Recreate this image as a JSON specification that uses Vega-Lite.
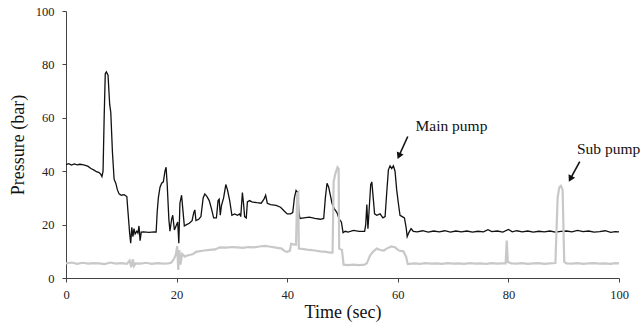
{
  "$schema": "https://vega.github.io/schema/vega-lite/v6.json",
  "width": 553,
  "height": 267,
  "autosize": {"type": "none"},
  "padding": {"left": 66, "top": 11, "right": 22, "bottom": 52},
  "background": "white",
  "config": {
    "view": {"stroke": null},
    "font": "Liberation Serif",
    "axis": {
      "grid": false,
      "labelFont": "Liberation Serif",
      "titleFont": "Liberation Serif",
      "labelFontSize": 12.5,
      "titleFontSize": 18,
      "titleFontWeight": "normal",
      "labelColor": "#222",
      "titleColor": "#111",
      "domainColor": "#444",
      "tickColor": "#444",
      "tickSize": 4,
      "domainWidth": 1,
      "tickWidth": 1
    }
  },
  "datasets": {
    "main": [
      {"t":0,"p":42.5},{"t":0.5,"p":42.8},{"t":1,"p":42.3},{"t":1.5,"p":42.7},{"t":2,"p":42.4},{"t":2.5,"p":42.6},{"t":3,"p":42.5},{"t":3.5,"p":42.2},{"t":4,"p":41.8},{"t":4.5,"p":41.0},{"t":5,"p":40.5},{"t":5.5,"p":39.8},{"t":6,"p":39.5},{"t":6.3,"p":38.8},{"t":6.5,"p":38},{"t":6.7,"p":40},{"t":6.9,"p":60},{"t":7.1,"p":76.5},{"t":7.3,"p":77.2},{"t":7.6,"p":76},{"t":7.9,"p":65},{"t":8.1,"p":62},{"t":8.4,"p":47},{"t":8.7,"p":37},{"t":9.0,"p":35.5},{"t":9.3,"p":33},{"t":9.6,"p":31.5},{"t":10,"p":31},{"t":10.5,"p":31.2},{"t":11,"p":30.5},{"t":11.2,"p":25},{"t":11.5,"p":17},{"t":11.7,"p":13},{"t":11.9,"p":19},{"t":12.1,"p":15.5},{"t":12.3,"p":18.5},{"t":12.5,"p":16.5},{"t":12.8,"p":17.5},{"t":13.0,"p":16.8},{"t":13.2,"p":19.5},{"t":13.4,"p":14},{"t":13.6,"p":17.2},{"t":14,"p":17.3},{"t":15,"p":17.1},{"t":16,"p":17.3},{"t":16.3,"p":17.2},{"t":16.5,"p":25},{"t":16.7,"p":30},{"t":17,"p":34},{"t":17.3,"p":35.5},{"t":17.6,"p":36},{"t":17.9,"p":40},{"t":18.1,"p":41.5},{"t":18.3,"p":35},{"t":18.6,"p":22},{"t":18.8,"p":17.5},{"t":19.1,"p":22},{"t":19.3,"p":23.5},{"t":19.6,"p":18},{"t":19.9,"p":19.5},{"t":20.2,"p":21},{"t":20.4,"p":13},{"t":20.6,"p":28},{"t":20.9,"p":31},{"t":21.2,"p":24},{"t":21.4,"p":19.5},{"t":21.8,"p":20},{"t":22.3,"p":20.5},{"t":22.8,"p":21.5},{"t":23.1,"p":24.5},{"t":23.3,"p":25.5},{"t":23.5,"p":21.5},{"t":24,"p":22},{"t":24.4,"p":23},{"t":24.8,"p":30},{"t":25.1,"p":31.5},{"t":25.5,"p":30.5},{"t":25.9,"p":29},{"t":26.3,"p":26},{"t":26.7,"p":22.5},{"t":27.2,"p":22.5},{"t":27.5,"p":29},{"t":27.7,"p":29.5},{"t":27.9,"p":23.5},{"t":28.1,"p":27},{"t":28.5,"p":30},{"t":28.9,"p":35},{"t":29.2,"p":33},{"t":29.6,"p":29},{"t":30,"p":23.5},{"t":30.5,"p":24},{"t":31,"p":23.5},{"t":31.4,"p":24},{"t":31.6,"p":23},{"t":31.9,"p":32},{"t":32.1,"p":28},{"t":32.3,"p":23},{"t":32.6,"p":22.5},{"t":32.8,"p":28.5},{"t":33.2,"p":29},{"t":33.6,"p":28.5},{"t":34.5,"p":28.2},{"t":35.3,"p":28},{"t":35.8,"p":29.5},{"t":36.1,"p":31},{"t":36.4,"p":28},{"t":37,"p":27.5},{"t":38,"p":27.2},{"t":38.8,"p":26.5},{"t":39.5,"p":25},{"t":40,"p":24},{"t":40.6,"p":24},{"t":41,"p":24.5},{"t":41.3,"p":30},{"t":41.6,"p":32.8},{"t":41.9,"p":32},{"t":42.1,"p":25},{"t":42.3,"p":22.3},{"t":43,"p":22.5},{"t":44,"p":22.8},{"t":45,"p":22.3},{"t":46,"p":22},{"t":46.6,"p":22.3},{"t":46.9,"p":30},{"t":47.2,"p":35.5},{"t":47.5,"p":34},{"t":47.8,"p":31},{"t":48.1,"p":28},{"t":48.5,"p":26},{"t":49,"p":24.5},{"t":49.4,"p":22},{"t":49.8,"p":21},{"t":50.1,"p":17},{"t":50.5,"p":17.5},{"t":51,"p":17.2},{"t":52,"p":17.8},{"t":53,"p":17.5},{"t":54,"p":17.5},{"t":54.2,"p":20},{"t":54.4,"p":27.5},{"t":54.6,"p":18.5},{"t":54.8,"p":25},{"t":55.1,"p":35},{"t":55.3,"p":36},{"t":55.6,"p":29},{"t":55.8,"p":24},{"t":56.2,"p":23.5},{"t":56.8,"p":24},{"t":57.3,"p":22.5},{"t":57.7,"p":23},{"t":58,"p":32},{"t":58.3,"p":40.5},{"t":58.6,"p":42},{"t":58.9,"p":41},{"t":59.2,"p":42},{"t":59.5,"p":40},{"t":59.8,"p":33},{"t":60.1,"p":28},{"t":60.4,"p":23.5},{"t":60.8,"p":23},{"t":61.2,"p":22.5},{"t":61.5,"p":19},{"t":61.7,"p":15.5},{"t":62,"p":17},{"t":62.4,"p":18.5},{"t":62.8,"p":17.5},{"t":63.5,"p":17.3},{"t":64.5,"p":17.7},{"t":65.5,"p":17.2},{"t":66.5,"p":17.6},{"t":67.5,"p":17.3},{"t":68.5,"p":17.7},{"t":69.5,"p":17.2},{"t":70.5,"p":17.6},{"t":71.5,"p":17.3},{"t":72.5,"p":17.6},{"t":73.5,"p":17.2},{"t":74.5,"p":17.5},{"t":75.5,"p":17.3},{"t":76.3,"p":18.1},{"t":77,"p":17.4},{"t":78,"p":17.6},{"t":79,"p":17.2},{"t":80,"p":18.2},{"t":80.7,"p":17.3},{"t":81.5,"p":17.7},{"t":82.5,"p":17.3},{"t":83.5,"p":17.6},{"t":84.5,"p":17.2},{"t":85.5,"p":17.5},{"t":86.5,"p":17.3},{"t":87.5,"p":17.6},{"t":88.5,"p":17.2},{"t":89.5,"p":17.5},{"t":90.5,"p":17.6},{"t":91.5,"p":17.3},{"t":92.5,"p":17.8},{"t":93.5,"p":17.4},{"t":94.5,"p":17.6},{"t":95.5,"p":17.2},{"t":96.5,"p":17.4},{"t":97.5,"p":17.7},{"t":98.5,"p":17.1},{"t":99.3,"p":17.4},{"t":100,"p":17.3}
    ],
    "sub": [
      {"t":0,"p":5.5},{"t":1,"p":5.8},{"t":2,"p":5.3},{"t":3,"p":5.7},{"t":4,"p":5.4},{"t":5,"p":5.6},{"t":6,"p":5.5},{"t":7,"p":5.2},{"t":8,"p":5.8},{"t":9,"p":5.4},{"t":10,"p":5.6},{"t":11,"p":5.3},{"t":11.5,"p":6.5},{"t":11.8,"p":4},{"t":12.1,"p":7},{"t":12.3,"p":4.5},{"t":12.6,"p":5.5},{"t":13.5,"p":5.4},{"t":14.5,"p":5.7},{"t":15.5,"p":5.3},{"t":16.5,"p":5.6},{"t":17.5,"p":5.4},{"t":18.5,"p":5.5},{"t":19,"p":5.7},{"t":19.5,"p":7},{"t":19.9,"p":9},{"t":20.1,"p":12},{"t":20.3,"p":3},{"t":20.5,"p":10.5},{"t":20.7,"p":5},{"t":21,"p":9},{"t":21.5,"p":8},{"t":22,"p":8.5},{"t":22.5,"p":8.7},{"t":23,"p":9},{"t":23.5,"p":9.8},{"t":24,"p":10},{"t":25,"p":10.3},{"t":26,"p":10.5},{"t":27,"p":10.7},{"t":27.8,"p":11.5},{"t":29,"p":11.4},{"t":30,"p":11.6},{"t":31,"p":11.5},{"t":32,"p":11.3},{"t":33,"p":11.6},{"t":34,"p":11.5},{"t":35,"p":11.8},{"t":36,"p":12},{"t":37,"p":11.7},{"t":38,"p":11.4},{"t":39,"p":11},{"t":39.6,"p":10},{"t":40,"p":9.8},{"t":40.5,"p":10.2},{"t":40.7,"p":12.8},{"t":41.3,"p":12.5},{"t":41.6,"p":12.5},{"t":41.8,"p":31.5},{"t":42,"p":32},{"t":42.1,"p":11},{"t":43,"p":10.8},{"t":44,"p":10.5},{"t":45,"p":10.3},{"t":46,"p":10},{"t":47,"p":9.8},{"t":47.8,"p":9.5},{"t":48.2,"p":9.5},{"t":48.4,"p":36},{"t":48.7,"p":39},{"t":49.1,"p":41.5},{"t":49.3,"p":41},{"t":49.4,"p":11},{"t":49.9,"p":10.5},{"t":50.2,"p":5},{"t":51,"p":4.8},{"t":52,"p":5},{"t":53,"p":4.8},{"t":54,"p":5},{"t":54.4,"p":5.5},{"t":55,"p":8.5},{"t":55.6,"p":10},{"t":56.2,"p":11},{"t":56.8,"p":10.5},{"t":57.5,"p":10.3},{"t":58,"p":11},{"t":58.8,"p":11.8},{"t":59.5,"p":11.5},{"t":60.2,"p":10.3},{"t":61,"p":10},{"t":61.5,"p":8},{"t":61.8,"p":5.2},{"t":63,"p":5.5},{"t":64,"p":5.3},{"t":65,"p":5.6},{"t":66,"p":5.4},{"t":67,"p":5.5},{"t":68,"p":5.3},{"t":69,"p":5.6},{"t":70,"p":5.4},{"t":71,"p":5.5},{"t":72,"p":5.3},{"t":73,"p":5.6},{"t":74,"p":5.4},{"t":75,"p":5.5},{"t":76,"p":5.3},{"t":77,"p":5.6},{"t":78,"p":5.4},{"t":79,"p":5.5},{"t":79.5,"p":5.5},{"t":79.7,"p":14},{"t":79.9,"p":6},{"t":80.5,"p":5.5},{"t":81.5,"p":5.4},{"t":82.5,"p":5.6},{"t":83.5,"p":5.3},{"t":84.5,"p":5.5},{"t":85.5,"p":5.6},{"t":86.5,"p":5.3},{"t":87.5,"p":5.5},{"t":88.5,"p":5.6},{"t":88.9,"p":30},{"t":89.2,"p":34},{"t":89.5,"p":34.5},{"t":89.8,"p":33},{"t":90.1,"p":6},{"t":90.5,"p":5.5},{"t":91.5,"p":5.4},{"t":92.5,"p":5.6},{"t":93.5,"p":5.3},{"t":94.5,"p":5.5},{"t":95.5,"p":5.6},{"t":96.5,"p":5.4},{"t":97.5,"p":5.5},{"t":98.5,"p":5.3},{"t":99.3,"p":5.6},{"t":100,"p":5.5}
    ],
    "labels": [
      {"t":63.2,"p":55.0,"label":"Main pump"},
      {"t":92.4,"p":46.6,"label":"Sub pump"}
    ],
    "arrows": [
      {"t":61.8,"p":53.0,"t2":60.2,"p2":45.7,"ang":24},
      {"t":92.9,"p":43.6,"t2":91.2,"p2":37.1,"ang":28}
    ]
  },
  "layer": [
    {
      "data": {"name": "main"},
      "mark": {"type": "line", "color": "#111111", "strokeWidth": 1.3, "interpolate": "linear"},
      "encoding": {
        "x": {"field": "t", "type": "quantitative", "scale": {"domain": [0, 100], "nice": false},
          "axis": {"values": [0, 20, 40, 60, 80, 100], "title": "Time (sec)", "labelPadding": 6, "titlePadding": 3, "labelFlush": false}},
        "y": {"field": "p", "type": "quantitative", "scale": {"domain": [0, 100], "nice": false},
          "axis": {"values": [0, 20, 40, 60, 80, 100], "title": "Pressure (bar)", "labelPadding": 8, "titlePadding": 8, "labelFlush": false}}
      }
    },
    {
      "data": {"name": "sub"},
      "mark": {"type": "line", "color": "#c8c8c8", "strokeWidth": 2.2},
      "encoding": {
        "x": {"field": "t", "type": "quantitative"},
        "y": {"field": "p", "type": "quantitative"}
      }
    },
    {
      "data": {"name": "arrows"},
      "mark": {"type": "rule", "color": "#111111", "strokeWidth": 1.6},
      "encoding": {
        "x": {"field": "t", "type": "quantitative"},
        "y": {"field": "p", "type": "quantitative"},
        "x2": {"field": "t2"},
        "y2": {"field": "p2"}
      }
    },
    {
      "data": {"name": "arrows"},
      "mark": {"type": "point", "shape": "triangle-down", "filled": true, "color": "#111111", "size": 55, "opacity": 1},
      "encoding": {
        "x": {"field": "t2", "type": "quantitative"},
        "y": {"field": "p2", "type": "quantitative"},
        "angle": {"field": "ang", "type": "quantitative", "scale": null}
      }
    },
    {
      "data": {"name": "labels"},
      "mark": {"type": "text", "align": "left", "baseline": "alphabetic", "font": "Liberation Serif", "fontSize": 15.5, "color": "#111111"},
      "encoding": {
        "x": {"field": "t", "type": "quantitative"},
        "y": {"field": "p", "type": "quantitative"},
        "text": {"field": "label"}
      }
    }
  ]
}
